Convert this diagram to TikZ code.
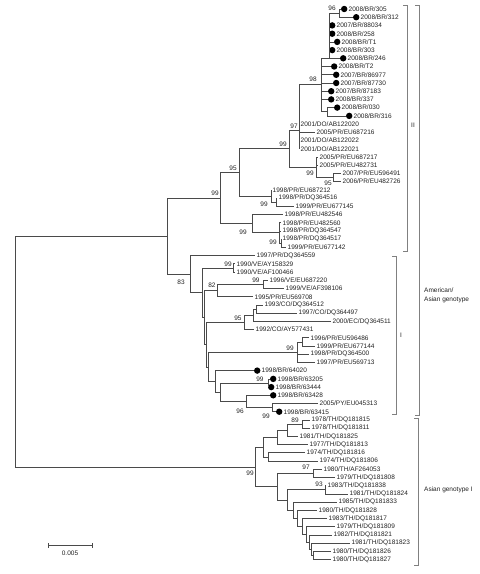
\documentclass[tikz,border=0pt]{standalone}
\usepackage{fontspec}
\setmainfont{Liberation Sans}
\definecolor{brc}{HTML}{4A4A4A}
\definecolor{txc}{HTML}{222222}
\definecolor{bkc}{HTML}{808080}
\tikzset{
  br/.style={draw=brc,line width=0.8pt},
  lab/.style={anchor=west,inner sep=0pt,text=txc,font=\fontsize{6.5}{7}\selectfont},
  bs/.style={inner sep=0pt,text=txc,font=\fontsize{6.5}{7}\selectfont},
  dotn/.style={circle,fill=black,inner sep=0pt,minimum size=6.4pt},
  bk/.style={draw=bkc,line width=0.8pt},
}
\newcommand\lf[4]{\coordinate (#1) at (#2,#3); \node[lab] (#1t) at (#2+1.5,#3) {#4};}
\newcommand\lfd[4]{\coordinate (#1) at (#2,#3); \node[dotn] (#1d) at (#2+3.2,#3) {}; \node[lab] (#1t) at (#2+7.5,#3) {#4};}
\newcommand\ed[2]{\draw[br] (#1) |- (#2);}
\begin{document}
\begin{tikzpicture}[x=1pt,y=-1pt]
\useasboundingbox (0,0) rectangle (480,574);
% leaves
\lfd{l1}{341}{9.0}{2008/BR/305}
\lfd{l2}{353}{17.2}{2008/BR/312}
\lfd{l3}{329}{25.4}{2007/BR/88034}
\lfd{l4}{329}{33.7}{2008/BR/258}
\lfd{l5}{334}{41.9}{2008/BR/T1}
\lfd{l6}{329}{50.1}{2008/BR/303}
\lfd{l7}{340}{58.3}{2008/BR/246}
\lfd{l8}{331}{66.5}{2008/BR/T2}
\lfd{l9}{333}{74.8}{2007/BR/86977}
\lfd{l10}{333}{83.0}{2007/BR/87730}
\lfd{l11}{328}{91.2}{2007/BR/87183}
\lfd{l12}{328}{99.4}{2008/BR/337}
\lfd{l13}{334}{107.6}{2008/BR/030}
\lfd{l14}{346}{115.9}{2008/BR/316}
\lf{l15}{299}{124.1}{2001/DO/AB122020}
\lf{l16}{315}{132.3}{2005/PR/EU687216}
\lf{l17}{299}{140.5}{2001/DO/AB122022}
\lf{l18}{299}{148.7}{2001/DO/AB122021}
\lf{l19}{318}{157.0}{2005/PR/EU687217}
\lf{l20}{318}{165.2}{2005/PR/EU482731}
\lf{l21}{341}{173.4}{2007/PR/EU596491}
\lf{l22}{341}{181.6}{2006/PR/EU482726}
\lf{l23}{271}{189.8}{1998/PR/EU687212}
\lf{l24}{277}{198.0}{1998/PR/DQ364516}
\lf{l25}{294}{206.3}{1999/PR/EU677145}
\lf{l26}{283}{214.5}{1998/PR/EU482546}
\lf{l27}{281}{222.7}{1998/PR/EU482560}
\lf{l28}{281}{230.9}{1998/PR/DQ364547}
\lf{l29}{281}{239.1}{1998/PR/DQ364517}
\lf{l30}{286}{247.4}{1999/PR/EU677142}
\lf{l31}{255}{255.6}{1997/PR/DQ364559}
\lf{l32}{235}{263.8}{1990/VE/AY158329}
\lf{l33}{235}{272.0}{1990/VE/AF100466}
\lf{l34}{268}{280.2}{1996/VE/EU687220}
\lf{l35}{284}{288.5}{1999/VE/AF398106}
\lf{l36}{253}{296.7}{1995/PR/EU569708}
\lf{l37}{263}{304.9}{1993/CO/DQ364512}
\lf{l38}{297}{313.1}{1997/CO/DQ364497}
\lf{l39}{331}{321.3}{2000/EC/DQ364511}
\lf{l40}{254}{329.5}{1992/CO/AY577431}
\lf{l41}{309}{337.8}{1996/PR/EU596486}
\lf{l42}{315}{346.0}{1999/PR/EU677144}
\lf{l43}{309}{354.2}{1998/PR/DQ364500}
\lf{l44}{315}{362.4}{1997/PR/EU569713}
\lfd{l45}{254}{370.6}{1998/BR/64020}
\lfd{l46}{270}{378.9}{1998/BR/63205}
\lfd{l47}{268}{387.1}{1998/BR/63444}
\lfd{l48}{270}{395.3}{1998/BR/63428}
\lf{l49}{318}{403.5}{2005/PY/EU045313}
\lfd{l50}{276}{411.7}{1998/BR/63415}
\lf{l51}{310}{420.0}{1978/TH/DQ181815}
\lf{l52}{310}{428.2}{1978/TH/DQ181811}
\lf{l53}{298}{436.4}{1981/TH/DQ181825}
\lf{l54}{308}{444.6}{1977/TH/DQ181813}
\lf{l55}{305}{452.8}{1974/TH/DQ181816}
\lf{l56}{318}{461.0}{1974/TH/DQ181806}
\lf{l57}{322}{469.3}{1980/TH/AF264053}
\lf{l58}{335}{477.5}{1979/TH/DQ181808}
\lf{l59}{326}{485.7}{1983/TH/DQ181838}
\lf{l60}{348}{493.9}{1981/TH/DQ181824}
\lf{l61}{337}{502.1}{1985/TH/DQ181833}
\lf{l62}{317}{510.4}{1980/TH/DQ181828}
\lf{l63}{327}{518.6}{1983/TH/DQ181817}
\lf{l64}{335}{526.8}{1979/TH/DQ181809}
\lf{l65}{332}{535.0}{1982/TH/DQ181821}
\lf{l66}{350}{543.2}{1981/TH/DQ181823}
\lf{l67}{331}{551.4}{1980/TH/DQ181826}
\lf{l68}{331}{559.7}{1980/TH/DQ181827}
% internal nodes
\coordinate (A) at (339,13.1);
\coordinate (X) at (329,58.3);
\coordinate (N98) at (321,84);
\coordinate (B) at (327,111.8);
\coordinate (N97) at (299,130);
\coordinate (D) at (333,177.5);
\coordinate (C) at (316,167);
\coordinate (N99) at (289,148.5);
\coordinate (Q) at (276,202.2);
\coordinate (G) at (271,196);
\coordinate (F95) at (239,172.3);
\coordinate (I2) at (281,243.3);
\coordinate (H2) at (279,232.3);
\coordinate (H) at (252,223.4);
\coordinate (NII) at (220,197.9);
\coordinate (K) at (233,267.9);
\coordinate (VE2) at (263,284.4);
\coordinate (M82) at (217,290.5);
\coordinate (O2) at (256,309);
\coordinate (O) at (253,315.1);
\coordinate (P95) at (244,322.3);
\coordinate (S) at (302,341.9);
\coordinate (Q99) at (297,352.8);
\coordinate (U) at (268,383);
\coordinate (V) at (272,407.6);
\coordinate (W) at (246,401.5);
\coordinate (Z) at (220,392.3);
\coordinate (Y) at (215,381.4);
\coordinate (N2) at (208,367.1);
\coordinate (N) at (206,344.7);
\coordinate (L) at (204,317.6);
\coordinate (J) at (202,292.8);
\coordinate (I83) at (190,274.2);
\coordinate (AA) at (167,236);
\coordinate (AA1) at (302,424.1);
\coordinate (AB) at (287,430.2);
\coordinate (AC) at (277,437.4);
\coordinate (AD) at (268,456.9);
\coordinate (AE) at (263,447.2);
\coordinate (AF) at (313,473.4);
\coordinate (AG) at (325,489.8);
\coordinate (c1) at (313,555.5);
\coordinate (c2) at (311,549.4);
\coordinate (c3) at (309,542.2);
\coordinate (c4) at (306,534.5);
\coordinate (c5) at (302,526.6);
\coordinate (c6) at (297,518.5);
\coordinate (c7) at (293,510.3);
\coordinate (AJ) at (287,500);
\coordinate (AI) at (277,486.7);
\coordinate (AG1) at (255,467);
\coordinate (R) at (15,351.5);
% edges
\ed{A}{l1}\ed{A}{l2}
\ed{X}{A}\ed{X}{l3}\ed{X}{l4}\ed{X}{l5}\ed{X}{l6}\draw[br] (X) -- (l7);
\ed{N98}{X}\ed{N98}{l8}\ed{N98}{l9}\ed{N98}{l10}\ed{N98}{l11}\ed{N98}{l12}\ed{N98}{B}
\ed{B}{l13}\ed{B}{l14}
\ed{N97}{N98}\ed{N97}{l15}\ed{N97}{l16}\ed{N97}{l17}\ed{N97}{l18}
\ed{D}{l21}\ed{D}{l22}
\ed{C}{l19}\ed{C}{l20}\ed{C}{D}
\ed{N99}{N97}\ed{N99}{C}
\ed{Q}{l24}\ed{Q}{l25}
\ed{G}{l23}\ed{G}{Q}
\ed{F95}{N99}\ed{F95}{G}
\ed{I2}{l29}\ed{I2}{l30}
\ed{H2}{l27}\ed{H2}{l28}\ed{H2}{I2}
\ed{H}{l26}\ed{H}{H2}
\ed{NII}{F95}\ed{NII}{H}
\ed{K}{l32}\ed{K}{l33}
\ed{VE2}{l34}\ed{VE2}{l35}
\ed{M82}{VE2}\ed{M82}{l36}
\ed{O2}{l37}\ed{O2}{l38}
\ed{O}{O2}\ed{O}{l39}
\ed{P95}{O}\ed{P95}{l40}
\ed{S}{l41}\ed{S}{l42}
\ed{Q99}{S}\ed{Q99}{l43}\ed{Q99}{l44}
\ed{U}{l46}\ed{U}{l47}
\ed{V}{l49}\ed{V}{l50}
\ed{W}{l48}\ed{W}{V}
\ed{Z}{U}\ed{Z}{W}
\ed{Y}{l45}\ed{Y}{Z}
\ed{N2}{Q99}\ed{N2}{Y}
\ed{N}{P95}\ed{N}{N2}
\ed{L}{M82}\ed{L}{N}
\ed{J}{K}\ed{J}{L}
\ed{I83}{l31}\ed{I83}{J}
\ed{AA}{NII}\ed{AA}{I83}
\ed{AA1}{l51}\ed{AA1}{l52}
\ed{AB}{AA1}\ed{AB}{l53}
\ed{AC}{AB}\ed{AC}{l54}
\ed{AD}{l55}\ed{AD}{l56}
\ed{AE}{AC}\ed{AE}{AD}
\ed{AF}{l57}\ed{AF}{l58}
\ed{AG}{l59}\ed{AG}{l60}
\ed{c1}{l67}\ed{c1}{l68}
\ed{c2}{l66}\ed{c2}{c1}
\ed{c3}{l65}\ed{c3}{c2}
\ed{c4}{l64}\ed{c4}{c3}
\ed{c5}{l63}\ed{c5}{c4}
\ed{c6}{l62}\ed{c6}{c5}
\ed{c7}{l61}\ed{c7}{c6}
\ed{AJ}{AG}\ed{AJ}{c7}
\ed{AI}{AF}\ed{AI}{AJ}
\ed{AG1}{AE}\ed{AG1}{AI}
\ed{R}{AA}\ed{R}{AG1}
% bootstrap values
\node[bs] (b1) at (332,8) {96};
\node[bs] (b2) at (313,79) {98};
\node[bs] (b3) at (294,126) {97};
\node[bs] (b4) at (283,144) {99};
\node[bs] (b5) at (310,173) {99};
\node[bs] (b6) at (328,183) {95};
\node[bs] (b7) at (233,168) {95};
\node[bs] (b8) at (264,204) {99};
\node[bs] (b9) at (215,193) {99};
\node[bs] (b10) at (243,232) {99};
\node[bs] (b11) at (273,242) {99};
\node[bs] (b12) at (181,282) {83};
\node[bs] (b13) at (228,264) {99};
\node[bs] (b14) at (212,285) {82};
\node[bs] (b15) at (256,280) {99};
\node[bs] (b16) at (238,318) {95};
\node[bs] (b17) at (290,348.5) {99};
\node[bs] (b18) at (260,379) {99};
\node[bs] (b19) at (240,411) {96};
\node[bs] (b20) at (266,416) {99};
\node[bs] (b21) at (295,420) {89};
\node[bs] (b22) at (250,473) {99};
\node[bs] (b23) at (306,467) {97};
\node[bs] (b24) at (319,484) {93};
% scale bar
\coordinate (sb1) at (48,545);
\coordinate (sb2) at (92,545);
\draw[br] (sb1) -- (sb2);
\draw[br] ([yshift=-2.5pt]sb1) -- ([yshift=2.5pt]sb1);
\draw[br] ([yshift=-2.5pt]sb2) -- ([yshift=2.5pt]sb2);
\node[bs] (sbl) at (70,553) {0.005};
% brackets
\coordinate (k1a) at (407,5);  \coordinate (k1b) at (407,251);
\coordinate (k2a) at (396,256); \coordinate (k2b) at (396,414);
\coordinate (k3a) at (419,5);  \coordinate (k3b) at (419,415);
\coordinate (k4a) at (418,418); \coordinate (k4b) at (418,565);
\draw[bk] ([xshift=-4pt]k1a) -- (k1a) -- (k1b) -- ([xshift=-4pt]k1b);
\draw[bk] ([xshift=-4pt]k2a) -- (k2a) -- (k2b) -- ([xshift=-4pt]k2b);
\draw[bk] ([xshift=-4pt]k3a) -- (k3a) -- (k3b) -- ([xshift=-4pt]k3b);
\draw[bk] ([xshift=-4pt]k4a) -- (k4a) -- (k4b) -- ([xshift=-4pt]k4b);
\node[lab] (t1) at (411,125) {II};
\node[lab] (t2) at (400,335) {I};
\node[lab] (t3) at (424,290) {American/};
\node[lab] (t4) at (424,300) {Asian genotype};
\node[lab] (t5) at (424,490) {Asian genotype I};
\end{tikzpicture}
\end{document}
